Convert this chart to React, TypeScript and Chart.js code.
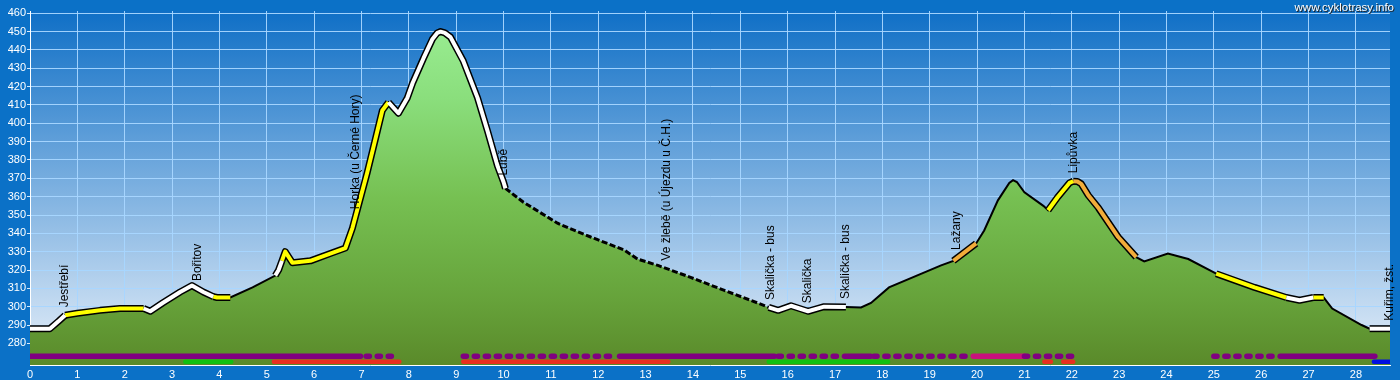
import React, { useEffect, useRef } from 'react';
import { Chart, registerables } from 'chart.js';

Chart.register(...registerables);

// ---- Elevation profile (km, m a.s.l.) ----
const KM = [
  0, 0.42, 0.6, 0.74, 1.0, 1.48, 1.9, 2.4, 2.54, 2.8, 3.17, 3.42, 3.66, 3.87, 3.95, 4.23,
  4.7, 5.18, 5.25, 5.32, 5.39, 5.54, 5.92, 6.34, 6.66, 6.81, 7.12, 7.29, 7.44, 7.57, 7.78,
  7.97, 8.08, 8.31, 8.5, 8.6, 8.67, 8.76, 8.88, 9.15, 9.45, 9.66, 9.87, 10.0, 10.04, 10.42, 11.14,
  11.84, 12.54, 12.83, 13.26, 13.95, 14.65, 15.37, 15.6, 15.8, 16.07, 16.43, 16.77, 17.23,
  17.55, 17.76, 18.14, 19.24, 19.5, 19.98, 20.15, 20.44, 20.68, 20.76, 20.84, 21.0, 21.4, 21.5, 21.7,
  21.95, 22.03, 22.12, 22.2, 22.35, 22.56, 22.98, 23.36, 23.53, 24.03, 24.46, 25.05, 25.86, 26.53, 26.81,
  27.1, 27.32, 27.5, 28.12, 28.29, 28.72,
];
const ELE = [
  288, 288, 292, 295.3, 296.4, 298, 299, 299, 297.5, 302, 308, 311.5, 308, 305.5, 305, 305,
  310.5, 317, 320, 325, 330, 324, 325, 329, 332, 343, 373, 391, 407, 411.5, 405.5,
  414, 422, 435.5, 446, 449.3, 450, 449.3, 447, 434, 414, 396, 377, 368, 364.5, 357, 345.5,
  338, 331, 326, 322.5, 316, 309, 302, 299.6, 298, 300.5, 297.5, 300, 299.8,
  299.6, 302, 310.5, 322.5, 325, 334.5, 341.6, 358, 367.5, 369, 368, 362.4, 355, 352.6, 359.7,
  367.5, 368.4, 368.3, 367, 360.7, 354, 338, 327, 324.7, 329, 326, 318, 310.5, 305, 303.5,
  305, 305, 299, 290, 288, 288,
];

const X_TICKS = Array.from({ length: 29 }, (_, i) => i);
const Y_TICKS = [280, 290, 300, 310, 320, 330, 340, 350, 360, 370, 380, 390, 400, 410, 420, 430, 440, 450, 460];

// ---- Place names ----
const PLACE_NAMES = [
  'Jestřebí', 'Bořitov', 'Horka (u Černé Hory)', 'Lubě', 'Ve žlebě (u Újezdu u Č.H.)',
  'Skalička - bus', 'Skalička', 'Skalička - bus', 'Lažany', 'Lipůvka', 'Kuřim, žst.',
];
const PLACE_KM = [0.74, 3.55, 6.87, 10.01, 13.45, 15.64, 16.43, 17.23, 19.58, 22.03, 28.72];

// ---- Highlighted track sections (km from, km to) ----
const WHITE_SEGS = [[0, 0.74], [2.4, 3.87], [5.18, 5.32], [7.57, 10.04], [15.6, 17.23], [26.53, 27.1], [28.29, 28.72]];
const YELLOW_SEGS = [[0.74, 2.4], [3.87, 4.23], [5.32, 7.57], [21.5, 22.03], [25.05, 26.53], [27.1, 27.32]];
const ORANGE_SEGS = [[19.5, 19.98], [22.03, 23.36]];
const DASHED_SEG = [10.04, 15.6];

// ---- Bottom strips (km from, km to) ----
const PURPLE_SOLID = [[0, 6.98], [12.45, 15.72], [17.2, 17.75], [26.4, 28.4]];
const PURPLE_DOTS = [[7.1, 7.75], [9.15, 12.4], [15.8, 17.15], [17.82, 19.85], [21.0, 22.05], [25.0, 26.35]];
const MAGENTA_SOLID = [[19.92, 21.0]];
const GREEN_SOLID = [[3.28, 4.25], [15.6, 18.12]];
const RED_SOLID = [[5.15, 7.8], [9.15, 13.48], [21.42, 21.56], [21.82, 22.03]];
const BLUE_SOLID = [[28.38, 28.72]];

const FONT = 'Liberation Sans, Arial, Helvetica, sans-serif';
const GRID = 'rgba(168, 214, 255, 0.95)';
const ROW1 = 273.0;
const ROW2 = 270.0;

function interp(km: number): number {
  for (let i = 0; i < KM.length - 1; i++) {
    if (km >= KM[i] && km <= KM[i + 1]) {
      const t = (km - KM[i]) / (KM[i + 1] - KM[i]);
      return ELE[i] + t * (ELE[i + 1] - ELE[i]);
    }
  }
  return ELE[ELE.length - 1];
}

function slicePts(a: number, b: number) {
  const pts: { x: number; y: number }[] = [];
  for (let i = 0; i < KM.length; i++) {
    if (KM[i] >= a - 1e-9 && KM[i] <= b + 1e-9) pts.push({ x: KM[i], y: ELE[i] });
  }
  return pts;
}

const inDash = (s: any) =>
  KM[s.p0DataIndex] >= DASHED_SEG[0] - 1e-9 && KM[s.p1DataIndex] <= DASHED_SEG[1] + 1e-9;

const bgPlugin = {
  id: 'bgPlugin',
  beforeDraw(chart: any) {
    const { ctx, chartArea: a, width, height } = chart;
    ctx.save();
    ctx.fillStyle = '#0b71c7';
    ctx.fillRect(0, 0, width, height);
    const g = ctx.createLinearGradient(0, a.top, 0, a.bottom);
    g.addColorStop(0, '#0f6fc6');
    g.addColorStop(0.5, '#7cb0e0');
    g.addColorStop(1, '#e6eff9');
    ctx.fillStyle = g;
    ctx.fillRect(a.left, a.top, a.right - a.left, a.bottom - a.top);
    ctx.restore();
  },
};

const labelPlugin = {
  id: 'labelPlugin',
  afterDatasetsDraw(chart: any) {
    const { ctx, scales } = chart;
    const xs = scales.x;
    const ys = scales.y;
    ctx.save();
    ctx.font = '12px ' + FONT;
    ctx.fillStyle = '#000';
    ctx.textAlign = 'left';
    ctx.textBaseline = 'middle';
    PLACE_NAMES.forEach((name, i) => {
      const km = PLACE_KM[i];
      const x = xs.getPixelForValue(km);
      const y = ys.getPixelForValue(interp(km)) - 8;
      ctx.save();
      ctx.translate(x, y);
      ctx.rotate(-Math.PI / 2);
      ctx.fillText(name, 0, 0);
      ctx.restore();
    });
    ctx.restore();
  },
  afterDraw(chart: any) {
    const { ctx } = chart;
    ctx.save();
    ctx.font = '11.5px ' + FONT;
    ctx.textAlign = 'right';
    ctx.textBaseline = 'alphabetic';
    ctx.fillStyle = '#222';
    ctx.fillText('www.cyklotrasy.info', 1395, 12);
    ctx.fillStyle = '#fff';
    ctx.fillText('www.cyklotrasy.info', 1394, 11);
    ctx.restore();
  },
};

export default function App() {
  const ref = useRef<HTMLCanvasElement | null>(null);

  useEffect(() => {
    document.body.style.margin = '0';
    const canvas = ref.current;
    if (!canvas) return;

    const datasets: any[] = [];
    const profile = KM.map((k, i) => ({ x: k, y: ELE[i] }));

    // filled area (no border, no segments -> no seams)
    datasets.push({
      data: profile,
      borderWidth: 0,
      borderColor: 'rgba(0,0,0,0)',
      pointRadius: 0,
      tension: 0,
      order: 110,
      fill: 'start',
      backgroundColor: (c: any) => {
        const ch = c.chart;
        const a = ch.chartArea;
        if (!a) return '#70b048';
        const g = ch.ctx.createLinearGradient(0, a.top, 0, a.bottom);
        g.addColorStop(0, '#9cf096');
        g.addColorStop(0.25, '#8ade7c');
        g.addColorStop(0.53, '#76c052');
        g.addColorStop(0.82, '#66a23a');
        g.addColorStop(1, '#5a8a2a');
        return g;
      },
    });

    // thin black profile line, dashed in one section
    datasets.push({
      data: profile,
      borderColor: '#000',
      borderWidth: 2,
      pointRadius: 0,
      tension: 0,
      order: 100,
      fill: false,
      segment: {
        borderDash: (s: any) => (inDash(s) ? [6, 2.5] : undefined),
        borderWidth: (s: any) => (inDash(s) ? 3 : undefined),
      },
    });

    const groups: [number[][], string][] = [
      [WHITE_SEGS, '#ffffff'],
      [YELLOW_SEGS, '#ffff00'],
      [ORANGE_SEGS, '#f2ac3a'],
    ];
    groups.forEach(([segs]) => {
      segs.forEach(([a, b]) => {
        datasets.push({
          data: slicePts(a, b),
          borderColor: '#000',
          borderWidth: 7,
          borderCapStyle: 'butt',
          borderJoinStyle: 'round',
          pointRadius: 0,
          tension: 0,
          fill: false,
          order: 50,
        });
      });
    });
    groups.forEach(([segs, color]) => {
      segs.forEach(([a, b]) => {
        datasets.push({
          data: slicePts(a, b),
          borderColor: color,
          borderWidth: 4,
          borderCapStyle: 'butt',
          borderJoinStyle: 'round',
          pointRadius: 0,
          tension: 0,
          fill: false,
          order: 40,
        });
      });
    });

    const strip = (ranges: number[][], y: number, color: string, width: number, dotted: boolean) => {
      ranges.forEach(([a, b]) => {
        datasets.push({
          data: [{ x: a, y }, { x: b, y }],
          borderColor: color,
          borderWidth: width,
          borderCapStyle: 'round',
          borderDash: dotted ? [3.2, 7.8] : [],
          pointRadius: 0,
          fill: false,
          order: 10,
        });
      });
    };
    strip(PURPLE_SOLID, ROW1, '#800080', 5.5, false);
    strip(PURPLE_DOTS, ROW1, '#800080', 5.5, true);
    strip(MAGENTA_SOLID, ROW1, '#c8117c', 5.5, false);
    strip(GREEN_SOLID, ROW2, '#10c010', 4.5, false);
    strip(RED_SOLID, ROW2, '#e83020', 4.5, false);
    strip(BLUE_SOLID, ROW2, '#0010e0', 4.5, false);

    const chart = new Chart(canvas, {
      type: 'line',
      data: { datasets },
      plugins: [bgPlugin, labelPlugin],
      options: {
        animation: false,
        responsive: false,
        devicePixelRatio: 1,
        layout: { padding: { top: 11, right: 10, left: 0, bottom: 0 } },
        plugins: { legend: { display: false }, tooltip: { enabled: false } },
        events: [],
        scales: {
          x: {
            type: 'linear',
            min: 0,
            max: 28.72,
            afterBuildTicks: (s: any) => {
              s.ticks = X_TICKS.map((v) => ({ value: v }));
            },
            afterFit: (s: any) => {
              s.height = 15;
            },
            ticks: {
              color: '#ffffff',
              font: { size: 11, family: FONT },
              padding: 3,
              maxRotation: 0,
              autoSkip: false,
              callback: (v: any) => String(v),
            },
            grid: { color: GRID, lineWidth: 1, drawTicks: false },
            border: { color: '#ffffff', width: 1 },
          },
          y: {
            type: 'linear',
            min: 268.2,
            max: 461.25,
            afterBuildTicks: (s: any) => {
              s.ticks = Y_TICKS.map((v) => ({ value: v }));
            },
            afterFit: (s: any) => {
              s.width = 30;
            },
            ticks: {
              color: '#ffffff',
              font: { size: 11, family: FONT },
              padding: 1,
              callback: (v: any) => String(v),
            },
            grid: { color: GRID, lineWidth: 1, tickLength: 3, tickColor: '#d8ecff' },
            border: { color: '#ffffff', width: 1 },
          },
        },
      },
    } as any);

    return () => chart.destroy();
  }, []);

  return (
    <div style={{ width: 1400, height: 380 }}>
      <canvas ref={ref} width={1400} height={380} style={{ display: 'block' }} />
    </div>
  );
}
